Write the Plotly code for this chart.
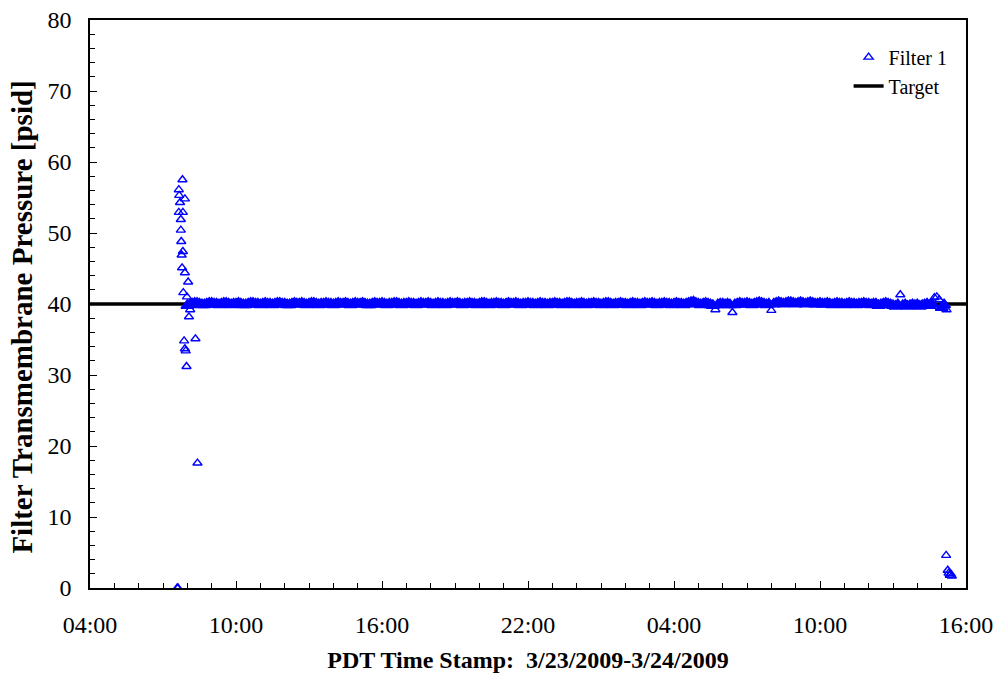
import pandas as pd
import plotly.graph_objects as go

# ---- data ----
# Start-up / shutdown excursions (timestamp, psid)
spike_times = ["2009-03-23 07:35", "2009-03-23 07:37", "2009-03-23 07:39", "2009-03-23 07:39",
               "2009-03-23 07:40", "2009-03-23 07:42", "2009-03-23 07:44", "2009-03-23 07:44",
               "2009-03-23 07:45", "2009-03-23 07:46", "2009-03-23 07:47", "2009-03-23 07:48",
               "2009-03-23 07:49", "2009-03-23 07:49", "2009-03-23 07:50", "2009-03-23 07:52",
               "2009-03-23 07:54", "2009-03-23 07:54", "2009-03-23 07:54", "2009-03-23 07:56",
               "2009-03-23 07:58", "2009-03-23 07:59", "2009-03-23 08:02", "2009-03-23 08:04",
               "2009-03-23 08:07", "2009-03-23 08:20", "2009-03-23 08:25"]
spike_values = [0.0, 0.0, 56.1, 52.9, 55.3, 54.3, 51.9, 50.4, 48.8, 46.9, 45.1, 57.5,
                52.9, 47.4, 41.6, 34.8, 54.8, 44.4, 33.7, 33.4, 31.2, 41.0, 43.1, 38.2,
                39.2, 35.1, 17.6]

end_times = ["2009-03-24 15:11", "2009-03-24 15:15", "2009-03-24 15:17", "2009-03-24 15:20",
             "2009-03-24 15:22", "2009-03-24 15:25"]
end_values = [4.6, 2.5, 2.1, 1.8, 2.0, 1.7]

# Steady operation, logged every 6 minutes from 3/23 08:00
steady_start = "2009-03-23 08:00"
steady_step = "6min"
steady_values = [
    39.8, 39.9, 40.0, 40.1, 40.1, 40.0, 39.9, 39.9, 40.0, 40.1,  # 08
    40.1, 40.0, 40.0, 39.9, 40.0, 40.1, 40.1, 40.0, 39.9, 40.0,  # 09
    40.0, 40.1, 40.0, 39.9, 39.9, 40.0, 40.1, 40.1, 40.0, 40.0,  # 10
    39.9, 40.0, 40.1, 40.0, 40.0, 39.9, 40.0, 40.1, 40.1, 40.0,  # 11
    40.0, 39.9, 39.9, 40.0, 40.1, 40.0, 40.0, 40.1, 40.0, 39.9,  # 12
    40.0, 40.1, 40.1, 40.0, 39.9, 40.0, 40.0, 40.1, 40.0, 40.0,  # 13
    39.9, 40.0, 40.1, 40.0, 40.0, 40.1, 40.0, 39.9, 40.0, 40.1,  # 14
    40.0, 40.0, 40.1, 40.0, 39.9, 39.9, 40.0, 40.1, 40.0, 40.0,  # 15
    40.1, 40.0, 39.9, 40.0, 40.0, 40.1, 40.1, 40.0, 39.9, 40.0,  # 16
    40.0, 40.1, 40.0, 40.0, 39.9, 40.0, 40.1, 40.0, 40.0, 40.1,  # 17
    40.0, 39.9, 40.0, 40.1, 40.0, 40.0, 39.9, 40.0, 40.1, 40.0,  # 18
    40.0, 40.1, 40.0, 39.9, 40.0, 40.0, 40.1, 40.0, 40.0, 39.9,  # 19
    40.0, 40.1, 40.1, 40.0, 39.9, 40.0, 40.0, 40.1, 40.0, 40.0,  # 20
    39.9, 40.0, 40.1, 40.0, 40.0, 40.1, 40.0, 39.9, 40.0, 40.0,  # 21
    40.1, 40.0, 40.0, 39.9, 40.0, 40.1, 40.0, 40.0, 39.9, 40.0,  # 22
    40.0, 40.1, 40.0, 40.0, 39.9, 40.0, 40.1, 40.1, 40.0, 39.9,  # 23
    40.0, 40.0, 40.1, 40.0, 39.9, 40.0, 40.0, 40.1, 40.0, 40.0,  # 00
    39.9, 40.0, 40.1, 40.1, 40.0, 39.9, 40.0, 40.0, 40.1, 40.0,  # 01
    40.0, 39.9, 40.0, 40.1, 40.0, 40.0, 39.9, 40.0, 40.1, 40.0,  # 02
    40.0, 40.1, 40.0, 39.9, 40.0, 40.0, 40.1, 40.0, 40.0, 39.9,  # 03
    40.0, 40.1, 40.0, 40.0, 39.9, 40.0, 40.1, 40.2, 40.3, 40.1,  # 04
    40.0, 39.9, 40.0, 40.1, 40.0, 39.9, 39.8, 39.2, 39.9, 40.0,  # 05
    40.0, 39.9, 40.0, 39.9, 38.8, 39.9, 40.0, 40.1, 40.0, 40.0,  # 06
    40.1, 40.0, 39.9, 40.0, 40.1, 40.2, 40.1, 40.0, 39.9, 40.0,  # 07
    39.1, 40.0, 40.1, 40.2, 40.1, 40.0, 40.1, 40.2, 40.2, 40.1,  # 08
    40.0, 40.1, 40.2, 40.1, 40.0, 40.1, 40.2, 40.1, 40.0, 40.0,  # 09
    40.1, 40.0, 40.0, 40.1, 40.0, 39.9, 40.0, 40.1, 40.0, 40.0,  # 10
    39.9, 40.0, 40.1, 40.0, 40.0, 39.9, 40.0, 40.0, 40.1, 40.0,  # 11
    40.0, 39.9, 40.0, 40.0, 39.8, 39.9, 40.0, 40.1, 40.0, 39.9,  # 12
    39.8, 39.7, 39.9, 41.3, 39.8, 39.9, 39.7, 39.8, 39.9, 39.8,  # 13
    39.9, 39.7, 39.8, 39.9, 40.0, 39.8, 40.0, 40.9, 41.0, 40.6,  # 14
    39.5, 39.9, 39.2,                                            # 15
]

target_value = 40
x_start = "2009-03-23 04:00"
x_end = "2009-03-24 16:00"

# ---- build ----
steady_times = list(pd.date_range(steady_start, periods=len(steady_values), freq=steady_step))

# dense, overlapping readings form a solid band; readings off the band stay as open markers
in_band = [39.5 <= v <= 40.5 for v in steady_values]
band_x = [t for t, b in zip(steady_times, in_band) if b]
band_y = [v for v, b in zip(steady_values, in_band) if b]
off_x = [t for t, b in zip(steady_times, in_band) if not b]
off_y = [v for v, b in zip(steady_values, in_band) if not b]

open_x = list(pd.to_datetime(spike_times)) + off_x + list(pd.to_datetime(end_times))
open_y = spike_values + off_y + end_values

font_family = "Liberation Serif, Times New Roman, serif"
blue = "#0000ff"

fig = go.Figure()
fig.add_trace(go.Scatter(
    x=[pd.Timestamp(x_start), pd.Timestamp(x_end)], y=[target_value, target_value],
    mode="lines", name="Target", line=dict(color="black", width=3.5),
))
fig.add_trace(go.Scatter(
    x=band_x, y=band_y, mode="markers", name="Filter 1", showlegend=False,
    legendgroup="f1",
    marker=dict(symbol="triangle-up", color=blue, size=11,
                line=dict(width=1.5, color=blue)),
))
fig.add_trace(go.Scatter(
    x=open_x, y=open_y, mode="markers", name="Filter 1", legendgroup="f1",
    marker=dict(symbol="triangle-up-open", color=blue, size=8,
                line=dict(width=1.4, color=blue)),
))

fig.update_layout(
    width=996, height=673,
    margin=dict(l=90, r=30, t=20, b=85, autoexpand=False),
    paper_bgcolor="white", plot_bgcolor="white",
    font=dict(family=font_family, color="black", size=20),
    showlegend=True,
    legend=dict(x=0.866, y=0.969, xanchor="left", yanchor="top",
                traceorder="reversed", bgcolor="rgba(0,0,0,0)",
                font=dict(family=font_family, size=20, color="black"),
                itemwidth=30, tracegroupgap=0),
    xaxis=dict(
        type="date", range=[x_start, x_end],
        tick0=x_start, dtick=6 * 3600 * 1000, tickformat="%H:%M",
        ticks="inside", ticklen=7, tickwidth=1, tickcolor="black",
        ticklabelstandoff=14,
        minor=dict(dtick=3600 * 1000, tick0=x_start, ticks="inside", ticklen=5,
                   tickwidth=1, tickcolor="black", showgrid=False),
        showline=True, linecolor="black", linewidth=1.5, mirror=True,
        showgrid=False, zeroline=False,
        tickfont=dict(size=24, family=font_family),
        title=dict(text="<b>PDT Time Stamp:  3/23/2009-3/24/2009</b>",
                   font=dict(size=24, family=font_family), standoff=16),
        automargin=False,
    ),
    yaxis=dict(
        range=[0, 80], tick0=0, dtick=10,
        ticks="inside", ticklen=7, tickwidth=1, tickcolor="black",
        ticklabelstandoff=12,
        minor=dict(dtick=2, ticks="inside", ticklen=5, tickwidth=1,
                   tickcolor="black", showgrid=False),
        showline=True, linecolor="black", linewidth=1.5, mirror=True,
        showgrid=False, zeroline=False,
        tickfont=dict(size=24, family=font_family),
        automargin=False,
    ),
    annotations=[dict(
        text="<b>Filter Transmembrane Pressure [psid]</b>",
        textangle=-90, xref="paper", yref="paper",
        x=-0.077, y=0.477, xanchor="center", yanchor="middle",
        showarrow=False, font=dict(size=29, family=font_family, color="black"),
    )],
)

fig.write_html("out.html")
